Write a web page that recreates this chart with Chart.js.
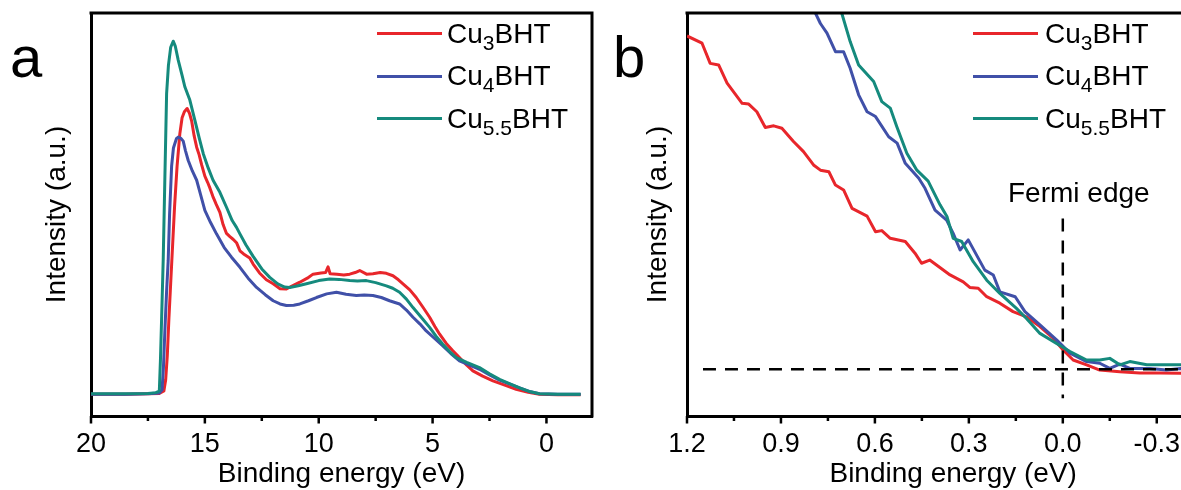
<!DOCTYPE html>
<html>
<head>
<meta charset="utf-8">
<script src="https://cdn.jsdelivr.net/npm/chart.js@4.4.1/dist/chart.umd.min.js"></script>
<style>
  html, body { margin: 0; padding: 0; background: #fff; }
  body { width: 1181px; height: 490px; overflow: hidden; position: relative;
         font-family: 'Liberation Sans', Arial, sans-serif; color: #000; }
  canvas { position: absolute; top: 0; }
  #chartA { left: 0; }
  #chartB { left: 600px; }
  .txt { position: absolute; font-size: 28px; line-height: 28px; white-space: nowrap; }
  .txt sub { font-size: 21px; vertical-align: -7px; line-height: 0; }
  .key { position: absolute; height: 3px; width: 65px; }
  .letter { position: absolute; font-size: 58px; line-height: 58px; top: 28px; }
</style>
</head>
<body>
<canvas id="chartA" width="600" height="490"></canvas>
<canvas id="chartB" width="628" height="490"></canvas>

<div class="letter" style="left:10px">a</div>
<div class="letter" style="left:613px">b</div>

<!-- legend a -->
<div class="key" style="left:377px;top:32px;background:#e8262b"></div>
<div class="key" style="left:377px;top:74.5px;background:#4050a8"></div>
<div class="key" style="left:377px;top:117px;background:#158a7d"></div>
<div class="txt" style="left:447px;top:19.6px">Cu<sub>3</sub>BHT</div>
<div class="txt" style="left:447px;top:62.3px">Cu<sub>4</sub>BHT</div>
<div class="txt" style="left:447px;top:104.6px">Cu<sub>5.5</sub>BHT</div>

<!-- legend b -->
<div class="key" style="left:973px;top:32px;background:#e8262b"></div>
<div class="key" style="left:973px;top:74.5px;background:#4050a8"></div>
<div class="key" style="left:973px;top:117px;background:#158a7d"></div>
<div class="txt" style="left:1045px;top:19.6px">Cu<sub>3</sub>BHT</div>
<div class="txt" style="left:1045px;top:62.3px">Cu<sub>4</sub>BHT</div>
<div class="txt" style="left:1045px;top:104.6px">Cu<sub>5.5</sub>BHT</div>

<div class="txt" style="left:1008px;top:179.3px">Fermi edge</div>

<script>
// ---- panel a : full UPS spectra (binding energy eV, intensity a.u.) ----
const cu3EnergyA = [20, 18.5, 17.5, 17, 16.8, 16.72, 16.65, 16.58, 16.5, 16.42, 16.33, 16.22, 16.1, 16.0, 15.9, 15.78, 15.68, 15.58, 15.47, 15.36, 15.25, 15.14, 15.0, 14.88, 14.78, 14.65, 14.5, 14.34, 14.2, 14.05, 13.9, 13.75, 13.61, 13.46, 13.3, 13.03, 12.88, 12.6, 12.3, 12.0, 11.7, 11.42, 11.2, 10.83, 10.5, 10.25, 9.9, 9.7, 9.59, 9.5, 9.2, 8.9, 8.64, 8.4, 8.2, 7.9, 7.62, 7.3, 7.03, 6.74, 6.5, 6.3, 6.0, 5.72, 5.4, 5.13, 4.9, 4.69, 4.4, 4.11, 3.8, 3.5, 3.23, 2.8, 2.35, 1.8, 1.33, 0.8, 0.31, -0.5, -1.5];
const cu3IntensityA = [5.4, 5.4, 5.5, 5.6, 6.2, 9, 15, 24, 33, 42, 52, 62, 70, 74, 75.5, 76.3, 75.2, 73.2, 69.5, 66.7, 64.8, 62.3, 59.5, 58, 56.6, 54.5, 52.5, 50.5, 47.5, 45.3, 44.5, 43.8, 43, 41, 40.2, 39.2, 37.7, 35.5, 33.8, 32.8, 31.6, 31.5, 32.2, 33.2, 34.2, 35.2, 35.5, 35.6, 37, 35.3, 35.2, 35.0, 35.2, 35.6, 36.1, 35.2, 35.3, 35.6, 35.4, 34.8, 33.8, 32.8, 31.3, 29.4, 26.8, 24.5, 22.2, 20.3, 18.0, 16.2, 14.4, 12.6, 11.2, 9.9, 8.7, 7.6, 6.6, 5.9, 5.4, 5.3, 5.3];

const cu4EnergyA = [20, 18.5, 17.5, 17.0, 16.88, 16.82, 16.75, 16.68, 16.61, 16.55, 16.46, 16.38, 16.25, 16.17, 16.05, 15.95, 15.85, 15.73, 15.55, 15.36, 15.2, 15.0, 14.75, 14.49, 14.15, 13.83, 13.46, 13.1, 12.73, 12.35, 12.0, 11.7, 11.42, 11.1, 10.83, 10.45, 10.1, 9.65, 9.22, 8.8, 8.35, 8.0, 7.62, 7.25, 6.89, 6.45, 6.15, 5.86, 5.55, 5.28, 4.9, 4.55, 4.2, 3.82, 3.4, 2.94, 2.5, 2.06, 1.6, 1.18, 0.7, 0.31, -0.5, -1.5];
const cu4IntensityA = [5.4, 5.4, 5.5, 5.7, 6.5, 12, 22, 31, 38.6, 50, 62, 66.5, 68.8, 69.2, 68.9, 68.2, 65.8, 63.4, 60.8, 58.5, 55.2, 51.0, 48.0, 45.2, 41.8, 39.4, 36.9, 34.2, 31.9, 30.1, 28.6, 27.8, 27.4, 27.5, 27.8, 28.6, 29.4, 30.3, 30.7, 30.2, 29.9, 30.0, 29.9, 29.4, 28.6, 27.8, 26.3, 24.5, 22.8, 21.1, 19.2, 17.4, 15.5, 13.7, 12.7, 11.6, 10.2, 8.9, 7.9, 7.0, 6.0, 5.5, 5.4, 5.4];

const cu55EnergyA = [20, 18.5, 17.5, 17.15, 17.0, 16.95, 16.9, 16.83, 16.76, 16.68, 16.6, 16.5, 16.39, 16.3, 16.17, 16.0, 15.88, 15.66, 15.44, 15.25, 15.07, 14.85, 14.64, 14.34, 14.05, 13.8, 13.61, 13.46, 13.2, 12.88, 12.5, 12.15, 11.8, 11.5, 11.27, 10.9, 10.54, 10.0, 9.52, 9.1, 8.64, 8.3, 7.91, 7.5, 7.03, 6.75, 6.45, 6.15, 5.86, 5.5, 5.13, 4.85, 4.55, 4.25, 3.96, 3.5, 2.94, 2.5, 2.06, 1.6, 1.18, 0.7, 0.31, -0.5, -1.5];
const cu55IntensityA = [5.5, 5.5, 5.6, 5.8, 6.2, 14, 24, 38.6, 58, 80, 87, 91.5, 93, 91.8, 88.3, 84.5, 81.7, 78.4, 73.4, 69, 65.1, 61.5, 58.5, 55.5, 51.8, 48.5, 46.8, 45.2, 42.5, 39.6, 36.5, 34.4, 32.8, 32, 31.9, 32.3, 32.8, 33.6, 34.0, 33.9, 33.6, 33.5, 33.6, 33.1, 32.3, 31.7, 30.7, 29.0, 26.9, 24.5, 22.0, 19.8, 17.8, 16.0, 14.5, 13.3, 12.0, 10.5, 9.1, 8.0, 7.0, 6.0, 5.5, 5.4, 5.4];

// ---- panel b : near the Fermi edge ----
const cu3EnergyB = [1.2, 1.152, 1.126, 1.099, 1.072, 1.024, 1.003, 0.977, 0.950, 0.923, 0.897, 0.860, 0.828, 0.796, 0.774, 0.747, 0.726, 0.700, 0.673, 0.625, 0.598, 0.578, 0.551, 0.503, 0.472, 0.451, 0.425, 0.360, 0.318, 0.297, 0.270, 0.243, 0.201, 0.159, 0.116, 0.073, 0.031, -0.001, -0.033, -0.076, -0.118, -0.182, -0.246, -0.310, -0.376, -0.5];
const cu3IntensityB = [94.3, 92.5, 87.5, 87.1, 82.6, 77.6, 77.4, 75.5, 71.6, 72.0, 71.4, 68.1, 65.6, 62.3, 61.0, 60.6, 57.3, 56.1, 51.5, 49.6, 45.7, 46.0, 44.1, 43.3, 40.4, 37.9, 38.7, 35.0, 33.3, 31.9, 31.7, 29.6, 28.0, 25.9, 24.6, 22.2, 19.3, 16.4, 13.9, 12.7, 11.4, 11.0, 10.7, 10.7, 10.6, 10.5];

const cu4EnergyB = [0.81, 0.790, 0.774, 0.753, 0.726, 0.700, 0.679, 0.652, 0.625, 0.598, 0.556, 0.529, 0.503, 0.460, 0.440, 0.408, 0.371, 0.350, 0.328, 0.302, 0.249, 0.222, 0.201, 0.152, 0.121, 0.073, 0.020, -0.023, -0.076, -0.118, -0.150, -0.182, -0.214, -0.278, -0.331, -0.376, -0.5];
const cu4IntensityB = [104, 100, 97.4, 95.0, 90.4, 90.4, 86.3, 79.7, 75.5, 74.3, 69.3, 67.7, 62.7, 59.0, 56.5, 51.1, 48.6, 45.3, 41.2, 43.7, 36.2, 35.0, 30.8, 29.6, 25.9, 22.6, 18.9, 15.6, 13.5, 13.1, 11.8, 12.9, 11.8, 11.8, 11.4, 11.8, 11.6];

const cu55EnergyB = [0.72, 0.706, 0.679, 0.652, 0.604, 0.578, 0.551, 0.530, 0.498, 0.466, 0.430, 0.392, 0.370, 0.350, 0.323, 0.286, 0.243, 0.201, 0.148, 0.116, 0.073, 0.020, -0.023, -0.076, -0.118, -0.150, -0.182, -0.214, -0.268, -0.331, -0.376, -0.5];
const cu55IntensityB = [104.7, 100, 92.9, 87.1, 83.0, 78.0, 76.4, 71.8, 65.2, 61.0, 58.3, 52.4, 49.5, 44.1, 43.3, 38.3, 33.7, 30.4, 26.7, 24.2, 20.5, 18.0, 16.0, 13.9, 13.9, 14.3, 12.7, 13.5, 12.7, 12.7, 12.7, 12.5];

// Fermi-edge guide lines
const baseLineX = [1.149, -0.5];
const baseLineY = [11.6, 11.6];
const fermiLineX = [0, 0];
const fermiLineY = [49, 4.4];

const RED = '#e8262b', BLUE = '#4050a8', TEAL = '#158a7d';

Chart.defaults.font.family = "'Liberation Sans', Arial, sans-serif";
Chart.defaults.color = '#000';

function pts(xs, ys) {
    return xs.map((x, i) => ({ x: x, y: ys[i] }));
}

function near(v, step) {
    const r = v / step;
    return Math.abs(r - Math.round(r)) < 1e-6;
}

// frame (top / right) and outward tick marks on the energy axis
const frameTicks = {
    id: 'frameTicks',
    afterDraw(chart, args, opts) {
        const { ctx, chartArea: a } = chart;
        const xs = chart.scales.x;
        ctx.save();
        ctx.strokeStyle = '#000';
        ctx.lineWidth = 3;
        ctx.beginPath();
        ctx.moveTo(a.left - 1.5, a.top);
        ctx.lineTo(a.right, a.top);
        ctx.lineTo(a.right, a.bottom + 1.5);
        ctx.stroke();
        ctx.lineWidth = 2.5;
        ctx.beginPath();
        xs.ticks.forEach(t => {
            if (!near(t.value, opts.minor)) return;
            const px = xs.getPixelForValue(t.value);
            const len = near(t.value, opts.major) ? 7.5 : 5;
            ctx.moveTo(px, a.bottom);
            ctx.lineTo(px, a.bottom + len);
        });
        ctx.stroke();
        ctx.restore();
    }
};

function line(label, data, color, order) {
    return {
        label: label,
        data: data,
        borderColor: color,
        borderWidth: 3,
        pointRadius: 0,
        tension: 0,
        borderJoinStyle: 'round',
        clip: 0,
        order: order
    };
}

function makeOptions(xMin, xMax, major, minor, yTitlePad, padRight, yWidth, decimals) {
    return {
        responsive: false,
        animation: false,
        layout: { padding: { top: 13, right: padRight, left: 0, bottom: 0 } },
        plugins: {
            legend: { display: false },
            tooltip: { enabled: false },
            frameTicks: { major: major, minor: minor }
        },
        scales: {
            x: {
                type: 'linear',
                reverse: true,
                min: xMin,
                max: xMax,
                afterFit: s => { s.height = 74; },
                grid: { display: false, drawTicks: false },
                border: { display: true, color: '#000', width: 3 },
                ticks: {
                    stepSize: minor,
                    includeBounds: false,
                    autoSkip: false,
                    maxRotation: 0,
                    padding: 12,
                    font: { size: 27 },
                    callback: v => near(v, major) ? (Math.abs(v) < 1e-9 ? 0 : v).toFixed(decimals) : ''
                },
                title: {
                    display: true,
                    text: 'Binding energy (eV)',
                    font: { size: 28, lineHeight: 1 },
                    padding: { top: 0, bottom: 1.5 }
                }
            },
            y: {
                min: 0,
                max: 100,
                afterFit: s => { s.width = yWidth; },
                grid: { display: false, drawTicks: false },
                border: { display: true, color: '#000', width: 3 },
                ticks: { display: false },
                title: {
                    display: true,
                    text: 'Intensity (a.u.)',
                    font: { size: 28, lineHeight: 1 },
                    padding: { top: yTitlePad, bottom: 0 }
                }
            }
        }
    };
}

new Chart(document.getElementById('chartA'), {
    type: 'line',
    data: {
        datasets: [
            line('Cu3BHT', pts(cu3EnergyA, cu3IntensityA), RED, 3),
            line('Cu4BHT', pts(cu4EnergyA, cu4IntensityA), BLUE, 2),
            line('Cu5.5BHT', pts(cu55EnergyA, cu55IntensityA), TEAL, 1)
        ]
    },
    options: makeOptions(-2, 20, 5, 2.5, 43, 8, 91, 0),
    plugins: [frameTicks]
});

const dashed = (data) => ({
    data: data,
    borderColor: '#000',
    borderWidth: 2.5,
    borderDash: [13, 9],
    pointRadius: 0,
    clip: 0,
    order: 0
});

new Chart(document.getElementById('chartB'), {
    type: 'line',
    data: {
        datasets: [
            dashed(pts(baseLineX, baseLineY)),
            dashed(pts(fermiLineX, fermiLineY)),
            line('Cu3BHT', pts(cu3EnergyB, cu3IntensityB), RED, 3),
            line('Cu4BHT', pts(cu4EnergyB, cu4IntensityB), BLUE, 2),
            line('Cu5.5BHT', pts(cu55EnergyB, cu55IntensityB), TEAL, 1)
        ]
    },
    options: makeOptions(-0.5, 1.2, 0.3, 0.15, 44, 8.6, 87, 1),
    plugins: [frameTicks]
});
</script>
</body>
</html>
